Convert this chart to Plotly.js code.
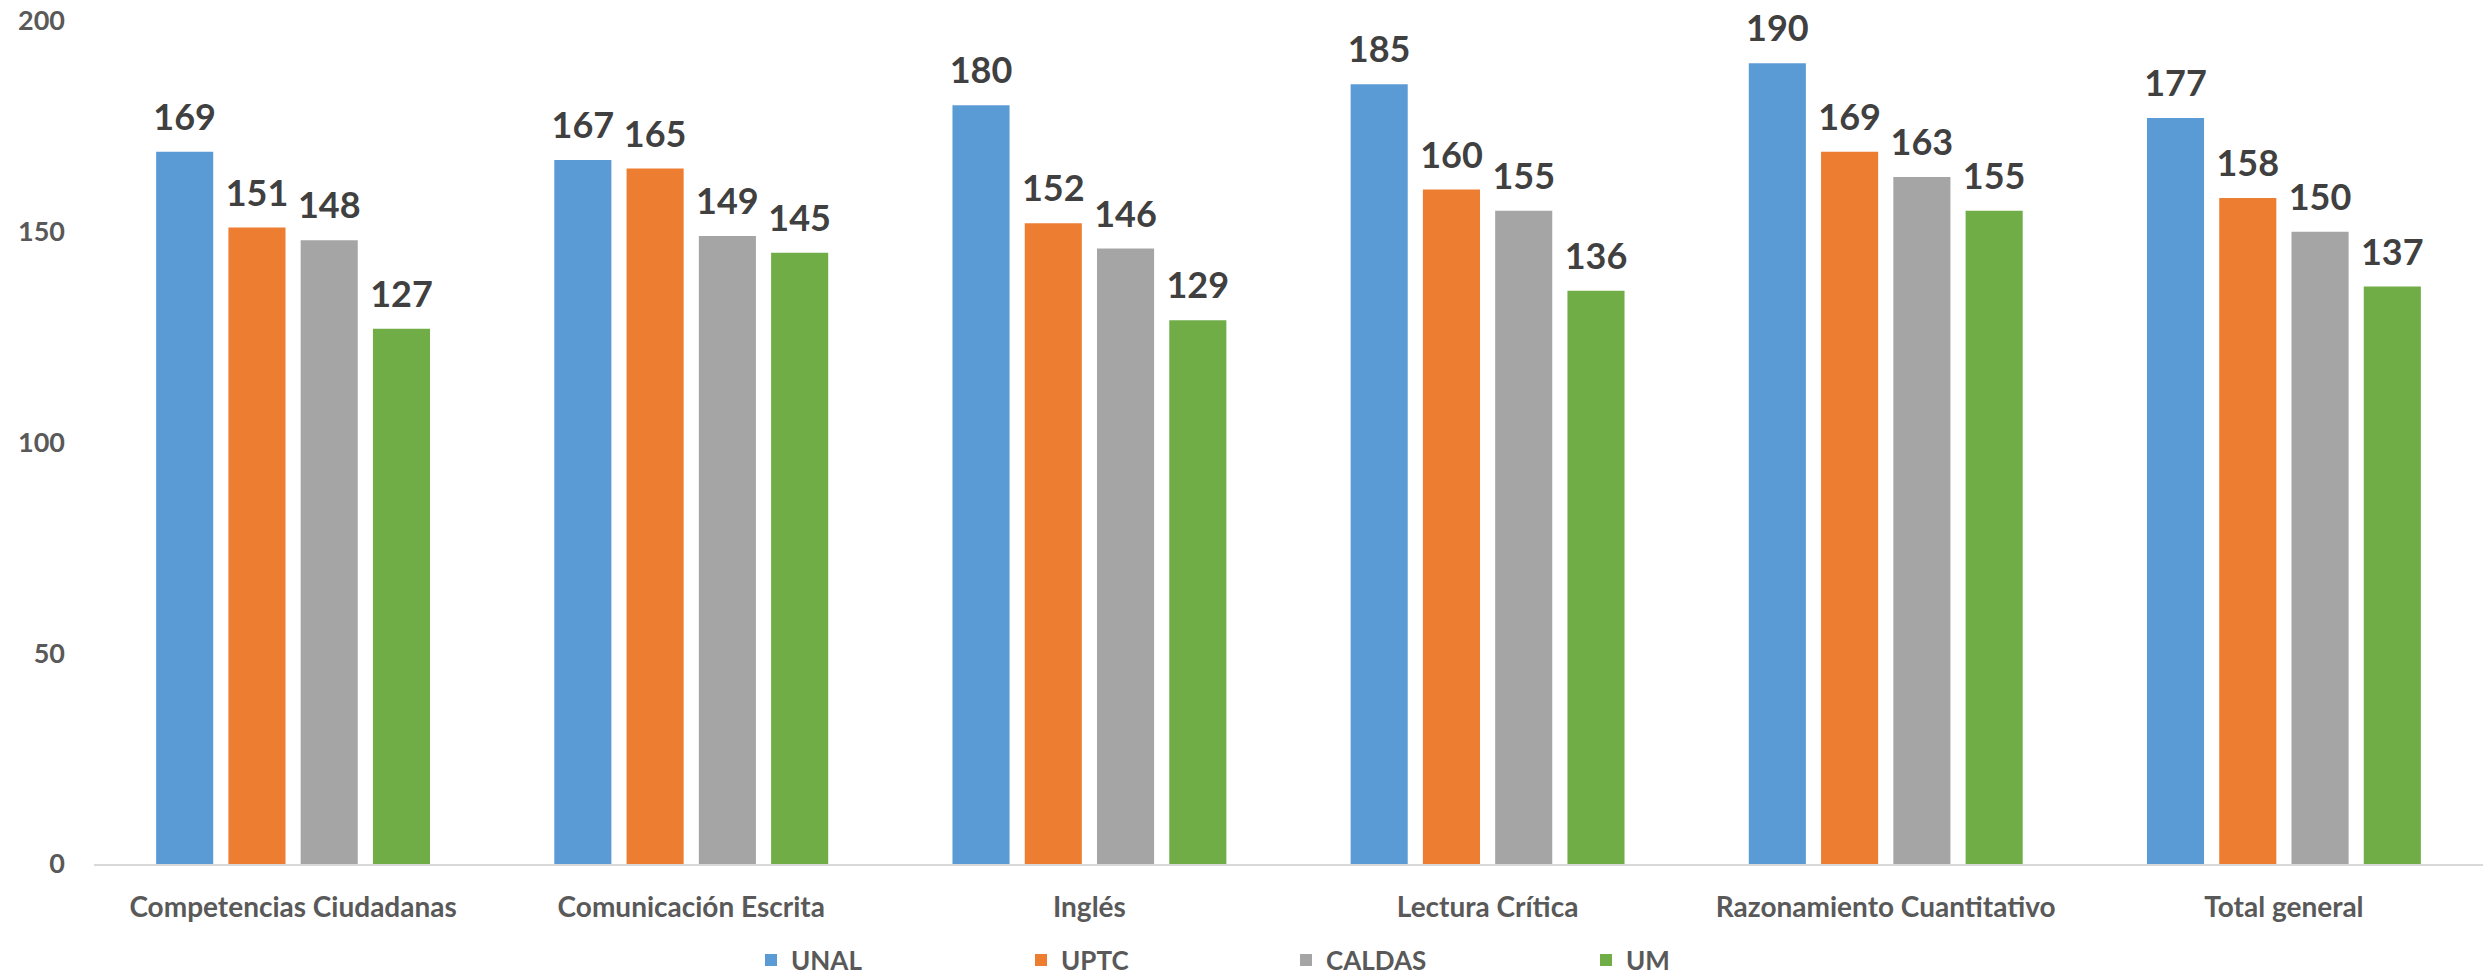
<!DOCTYPE html>
<html><head><meta charset="utf-8">
<script src="https://cdn.plot.ly/plotly-3.0.1.min.js"></script>
<style>html,body{margin:0;padding:0;background:#fff}</style>
</head><body>
<div id="chart" style="width:2483px;height:979px"></div>
<script>
const categories = ["Competencias Ciudadanas","Comunicación Escrita","Inglés","Lectura Crítica","Razonamiento Cuantitativo","Total general"];
const seriesNames = ["UNAL","UPTC","CALDAS","UM"];
const unal   = [169,167,180,185,190,177];
const uptc   = [151,165,152,160,169,158];
const caldas = [148,149,146,155,163,150];
const um     = [127,145,129,136,155,137];
const yTicks = [0,50,100,150,200];

const seriesValues = [unal, uptc, caldas, um];
const colors = ["#5B9BD5","#ED7D31","#A5A5A5","#70AD47"];
const legendIds = ["legend","legend2","legend3","legend4"];
const FONT = "Lato, 'Open Sans', sans-serif";

const W = 2483, H = 979;
const M = {l:94, r:0, t:21, b:115};
const GAP = 0.274;

const traces = [];
seriesNames.forEach((name, i) => {
  traces.push({
    type: 'bar', name: name, x: categories, y: seriesValues[i],
    marker: {color: colors[i]}, offsetgroup: String(i),
    legend: legendIds[i], hoverinfo: 'skip'
  });
});
seriesNames.forEach((name, i) => {
  traces.push({
    type: 'scatter', mode: 'markers+text', name: name + ' labels',
    x: categories, y: seriesValues[i], text: seriesValues[i].map(String),
    textposition: 'top center', offsetgroup: String(i),
    marker: {size: 19, opacity: 0, color: colors[i]},
    textfont: {family: FONT, size: 36, color: '#404040', weight: 700},
    cliponaxis: false, showlegend: false, hoverinfo: 'skip'
  });
});

// legend text starting positions (px) in the reference
const legendTextPx = [791, 1061, 1326, 1626];
const legendCenterPx = 960;

const layout = {
  width: W, height: H,
  margin: M,
  paper_bgcolor: '#fff', plot_bgcolor: '#fff',
  barmode: 'group', bargap: GAP, bargroupgap: 0.21,
  scattermode: 'group', scattergap: GAP,
  font: {family: FONT, color: '#595959'},
  xaxis: {
    type: 'category', showgrid: false, zeroline: false,
    showline: true, linecolor: '#D9D9D9', linewidth: 2,
    ticks: '', ticklabelstandoff: 17, automargin: false,
    tickfont: {family: FONT, size: 28, color: '#595959', weight: 700}
  },
  yaxis: {
    range: [0, 200], tickvals: yTicks, ticktext: yTicks.map(String),
    showgrid: false, zeroline: false, showline: false, ticks: '',
    ticklabelstandoff: 28, automargin: false,
    tickfont: {family: FONT, size: 27, color: '#595959', weight: 700}
  },
  showlegend: true
};
legendIds.forEach((id, i) => {
  layout[id] = {
    orientation: 'h', xref: 'container', yref: 'container',
    x: (legendTextPx[i] - 40) / W, xanchor: 'left',
    y: 1 - legendCenterPx / H, yanchor: 'middle',
    bgcolor: 'rgba(0,0,0,0)', borderwidth: 0,
    font: {family: FONT, size: 26, color: '#595959', weight: 700}
  };
});

Plotly.newPlot('chart', traces, layout, {displayModeBar: false, responsive: false});
</script>
</body></html>
